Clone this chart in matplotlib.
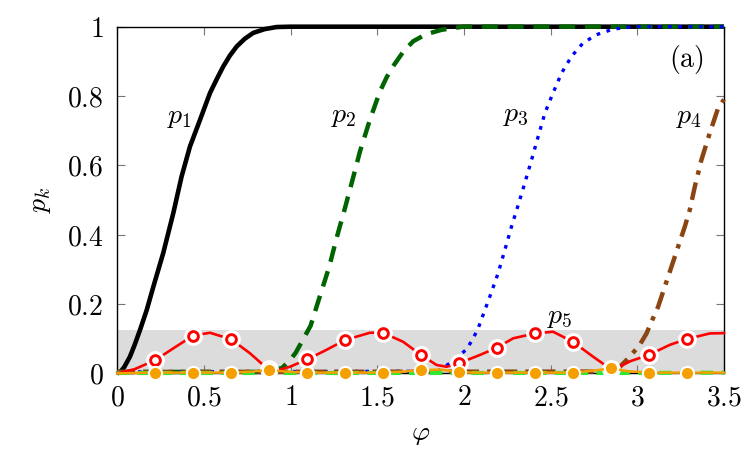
import matplotlib
matplotlib.use("Agg")
import matplotlib.pyplot as plt
import numpy as np

plt.rcParams['mathtext.fontset'] = 'cm'
plt.rcParams['font.family'] = ['DejaVu Serif']

# ---------------- data ----------------
p1_phi = [0.0, 0.016, 0.04, 0.073, 0.1, 0.131, 0.17, 0.208, 0.265, 0.323, 0.371, 0.419,
          0.477, 0.535, 0.575, 0.611, 0.65, 0.689, 0.735, 0.784, 0.85, 0.919, 1.0, 3.5]
p1_val = [0.0, 0.003, 0.018, 0.048, 0.082, 0.125, 0.183, 0.25, 0.347, 0.462, 0.568, 0.654,
          0.731, 0.809, 0.85, 0.885, 0.917, 0.943, 0.965, 0.982, 0.993, 0.999, 1.0, 1.0]

p2_phi = [0.0, 0.85, 0.95, 1.0, 1.03, 1.115, 1.169, 1.223, 1.265, 1.313, 1.357, 1.4,
          1.457, 1.515, 1.555, 1.597, 1.65, 1.707, 1.78, 1.871, 1.994, 3.5]
p2_val = [0.004, 0.004, 0.015, 0.04, 0.06, 0.137, 0.223, 0.308, 0.39, 0.476, 0.558, 0.64,
          0.731, 0.813, 0.855, 0.89, 0.928, 0.958, 0.978, 0.991, 1.0, 1.0]

p3_phi = [0.0, 1.85, 1.918, 2.015, 2.053, 2.082, 2.149, 2.197, 2.236, 2.274, 2.313,
          2.351, 2.39, 2.428, 2.467, 2.514, 2.563, 2.62, 2.687, 2.765, 2.86, 2.976, 3.5]
p3_val = [0.004, 0.006, 0.029, 0.069, 0.101, 0.13, 0.221, 0.289, 0.356, 0.423, 0.486,
          0.549, 0.616, 0.683, 0.751, 0.809, 0.866, 0.914, 0.953, 0.977, 0.993, 1.0, 1.0]

p4_phi = [0.0, 2.85, 2.9, 2.957, 3.014, 3.053, 3.082, 3.12, 3.178, 3.226, 3.274,
          3.303, 3.332, 3.37, 3.418, 3.466, 3.5]
p4_val = [0.004, 0.005, 0.019, 0.048, 0.082, 0.115, 0.149, 0.192, 0.279, 0.351, 0.423,
          0.472, 0.539, 0.616, 0.693, 0.765, 0.79]

p5_phi = [0.0, 0.1, 0.219, 0.323, 0.438, 0.535, 0.657, 0.765, 0.842, 0.876, 0.919,
          0.996, 1.095, 1.2, 1.314, 1.457, 1.533, 1.649, 1.752, 1.842, 1.9, 1.971,
          2.092, 2.19, 2.284, 2.409, 2.514, 2.628, 2.745, 2.847, 2.9, 2.96, 3.066,
          3.187, 3.285, 3.418, 3.5]
p5_val = [0.0, 0.012, 0.038, 0.072, 0.109, 0.117, 0.098, 0.058, 0.024, 0.012, 0.008,
          0.019, 0.040, 0.066, 0.096, 0.117, 0.117, 0.091, 0.053, 0.024, 0.019, 0.029,
          0.053, 0.074, 0.101, 0.115, 0.120, 0.091, 0.048, 0.012, 0.02, 0.035, 0.053,
          0.082, 0.099, 0.115, 0.116]

p6_phi = [0.0, 0.219, 0.438, 0.657, 0.78, 0.876, 0.97, 1.095, 1.314, 1.533, 1.65,
          1.752, 1.86, 1.971, 2.05, 2.19, 2.409, 2.628, 2.75, 2.847, 2.95, 3.066,
          3.285, 3.5]
p6_val = [0.0, 0.002, 0.002, 0.002, 0.005, 0.010, 0.005, 0.002, 0.002, 0.002, 0.005,
          0.009, 0.011, 0.004, 0.002, 0.002, 0.002, 0.002, 0.008, 0.014, 0.006, 0.002,
          0.002, 0.002]

p7_phi = [0.0, 0.5, 1.0, 1.5, 2.0, 2.5, 3.0, 3.5]
p7_val = [0.001, 0.001, 0.001, 0.001, 0.001, 0.001, 0.001, 0.002]

mark_phi = [0.219, 0.438, 0.657, 0.876, 1.095, 1.314, 1.533, 1.752, 1.971, 2.19,
            2.409, 2.628, 2.847, 3.066, 3.285]

band_top = 0.125

labels = ["$p_1$", "$p_2$", "$p_3$", "$p_4$", "$p_5$"]
label_pos = [(0.36, 0.74), (1.307, 0.743), (2.30, 0.746), (3.299, 0.741), (2.553, 0.163)]
xticks = [0, 0.5, 1, 1.5, 2, 2.5, 3, 3.5]
xticklabels = ["0", "0.5", "1", "1.5", "2", "2.5", "3", "3.5"]
yticks = [0, 0.2, 0.4, 0.6, 0.8, 1.0]
yticklabels = ["0", "0.2", "0.4", "0.6", "0.8", "1"]

# ---------------- figure ----------------
fig = plt.figure(figsize=(7.5, 4.5), dpi=100)
ax = fig.add_axes([0.1564, 0.1704, 0.8089, 0.7703])
ax.set_xlim(0, 3.5)
ax.set_ylim(0, 1)

ax.axhspan(0, band_top, color='#dcdcdc', zorder=0, lw=0)

ax.plot(p1_phi, p1_val, color='black', lw=3.3, zorder=3, clip_on=False,
        solid_joinstyle='round', solid_capstyle='butt')
ax.plot(p2_phi, p2_val, color='#006400', lw=3.2, ls=(0, (3.6, 2.2)), zorder=3, clip_on=False)
ax.plot(p3_phi, p3_val, color='#0000ff', lw=2.4, ls=(0, (1.1, 2.0)), zorder=3, clip_on=False)
ax.plot(p4_phi, p4_val, color='#8b4513', lw=3.2, ls=(0, (4.0, 1.8, 1.0, 1.8)), zorder=3, clip_on=False)
ax.plot(p7_phi, p7_val, color='#33e633', lw=3.0, ls=(0, (3.0, 2.0)), zorder=4, clip_on=False)

# red p5 line with open markers and white halo
idx5 = [p5_phi.index(m) for m in mark_phi]
ax.plot(p5_phi, p5_val, color='#ff0000', lw=1.9, zorder=5, clip_on=False,
        solid_joinstyle='round')
ax.plot(p5_phi, p5_val, ls='none', marker='o', markevery=idx5, ms=12.5, mfc='white',
        mec='white', zorder=5.1, clip_on=False)
ax.plot(p5_phi, p5_val, ls='none', marker='o', markevery=idx5, ms=7, mfc='white',
        mec='#ff0000', mew=2.1, zorder=5.2, clip_on=False)

# orange line with filled markers
idx6 = [p6_phi.index(m) for m in mark_phi]
ax.plot(p6_phi, p6_val, color='#f5a000', lw=1.8, zorder=6, clip_on=False)
ax.plot(p6_phi, p6_val, ls='none', marker='o', markevery=idx6, ms=9.5, mfc='#f5a000',
        mec='white', mew=1.5, zorder=6.1, clip_on=False)

for t, (x, y) in zip(labels, label_pos):
    ax.text(x, y, t, fontsize=20, ha='center', va='center', zorder=7)
ax.text(3.284, 0.905, r"$\mathrm{(a)}$", fontsize=20, ha='center', va='center', zorder=7)

ax.set_xticks(xticks)
ax.set_xticklabels(["$" + s + "$" for s in xticklabels])
ax.set_yticks(yticks)
ax.set_yticklabels(["$" + s + "$" for s in yticklabels])
ax.tick_params(direction='in', length=6, width=0.8, color='#777777', labelsize=20,
               top=True, right=True)
ax.tick_params(axis='x', pad=8)
ax.tick_params(axis='y', pad=10)
for s in ax.spines.values():
    s.set_linewidth(1.0)
    s.set_zorder(2.5)

ax.set_xlabel(r"$\varphi$", fontsize=20, labelpad=6)
ax.set_ylabel(r"$p_k$", fontsize=20, labelpad=10)

fig.savefig("out.png", dpi=100)
